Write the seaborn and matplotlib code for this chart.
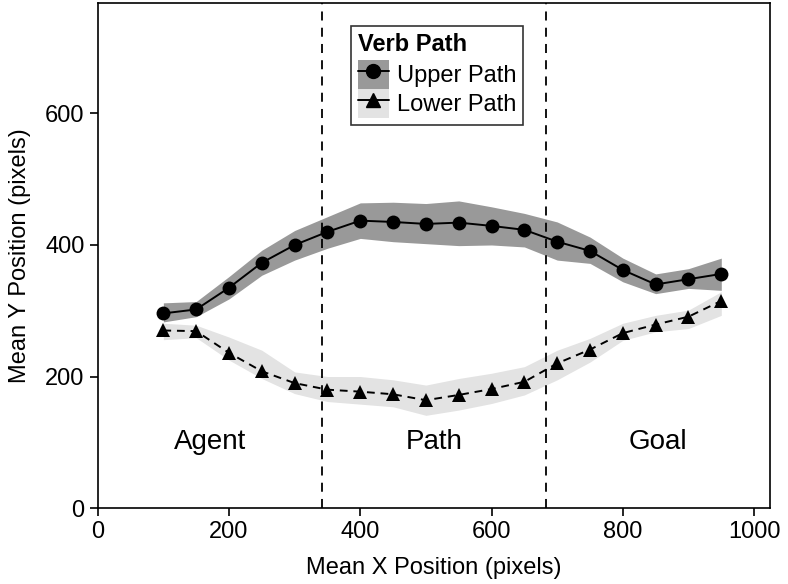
import numpy as np
import pandas as pd
import matplotlib
matplotlib.use("Agg")
import matplotlib.pyplot as plt
import seaborn as sns
from matplotlib.patches import Patch
from matplotlib.lines import Line2D

sns.set_theme(style="ticks")
plt.rcParams['font.family'] = ['Liberation Sans', 'DejaVu Sans']
plt.rcParams.update({"text.color": "black", "axes.labelcolor": "black",
                     "xtick.color": "black", "ytick.color": "black"})

# mean trajectory values
x_pos = [100, 150, 200, 250, 300, 350, 400, 450, 500, 550, 600, 650, 700, 750, 800, 850, 900, 950]
upper_y = [296, 302, 335, 373, 400, 420, 437, 435, 432, 434, 429, 423, 405, 391, 362, 340, 348, 356]
upper_hi = [312, 314, 352, 392, 422, 443, 464, 465, 463, 467, 458, 448, 435, 412, 380, 356, 364, 380]
upper_lo = [283, 291, 318, 354, 377, 395, 410, 405, 402, 399, 400, 397, 377, 372, 344, 326, 334, 331]
lower_y = [270, 269, 236, 208, 190, 180, 177, 173, 164, 172, 181, 192, 220, 241, 266, 279, 291, 315]
lower_hi = [281, 278, 260, 240, 207, 200, 200, 195, 187, 197, 205, 215, 240, 258, 281, 293, 301, 329]
lower_lo = [256, 259, 225, 197, 174, 162, 158, 154, 141, 149, 159, 172, 195, 222, 255, 268, 273, 293]

paths = ["Upper Path", "Lower Path"]
band_colors = {"Upper Path": "#999999", "Lower Path": "#e3e3e3"}
regions = ["Agent", "Path", "Goal"]
boundaries = [341, 683]

df = pd.DataFrame({
    "x": x_pos * 2,
    "y": upper_y + lower_y,
    "path": ["Upper Path"] * len(x_pos) + ["Lower Path"] * len(x_pos),
})

fig = plt.figure(figsize=(7.88, 5.84), dpi=100)
ax = fig.add_axes([0.124, 0.130, 0.853, 0.865])

# confidence bands
ax.fill_between(x_pos, upper_lo, upper_hi, color=band_colors["Upper Path"], lw=0, zorder=1)
ax.fill_between(x_pos, lower_lo, lower_hi, color=band_colors["Lower Path"], lw=0, zorder=1)

sns.lineplot(data=df, x="x", y="y", hue="path", style="path",
             palette={"Upper Path": "black", "Lower Path": "black"},
             markers={"Upper Path": "o", "Lower Path": "^"},
             dashes={"Upper Path": "", "Lower Path": (4, 3)},
             markersize=10, markeredgewidth=0, linewidth=1.4,
             legend=False, ax=ax, zorder=3)

for b in boundaries:
    ax.axvline(b, color="black", lw=1.3, ls=(0, (5, 4)), zorder=2)

# region labels
edges = [0] + boundaries + [1024]
for i, name in enumerate(regions):
    ax.text((edges[i] + edges[i + 1]) / 2, 100, name, ha="center", va="center", fontsize=20)

ax.set_xlim(0, 1024)
ax.set_ylim(0, 768)
ax.set_xticks([0, 200, 400, 600, 800, 1000])
ax.set_yticks([0, 200, 400, 600])
ax.tick_params(labelsize=17, length=6, width=1.2, color="black")
ax.set_xlabel("Mean X Position (pixels)", fontsize=17, labelpad=10)
ax.set_ylabel("Mean Y Position (pixels)", fontsize=17, labelpad=10)
for s in ax.spines.values():
    s.set_color("black")
    s.set_linewidth(1.2)

handles = [
    (Patch(facecolor=band_colors["Upper Path"], lw=0),
     Line2D([], [], color="black", marker="o", markersize=10, lw=1.4)),
    (Patch(facecolor=band_colors["Lower Path"], lw=0),
     Line2D([], [], color="black", marker="^", markersize=10, lw=1.4)),
]
leg = ax.legend(handles, paths, title="Verb Path", loc="upper center",
                bbox_to_anchor=(0.505, 0.978), fontsize=17, title_fontsize=17,
                frameon=True, fancybox=False, edgecolor="black",
                handlelength=1.3, handleheight=1.5, handletextpad=0.35,
                labelspacing=0.0, borderpad=0.3)
leg.get_title().set_fontweight("bold")
leg._legend_box.align = "left"
leg._legend_box.sep = 3
leg.get_frame().set_linewidth(1.2)

fig.savefig("out.png", dpi=100)
